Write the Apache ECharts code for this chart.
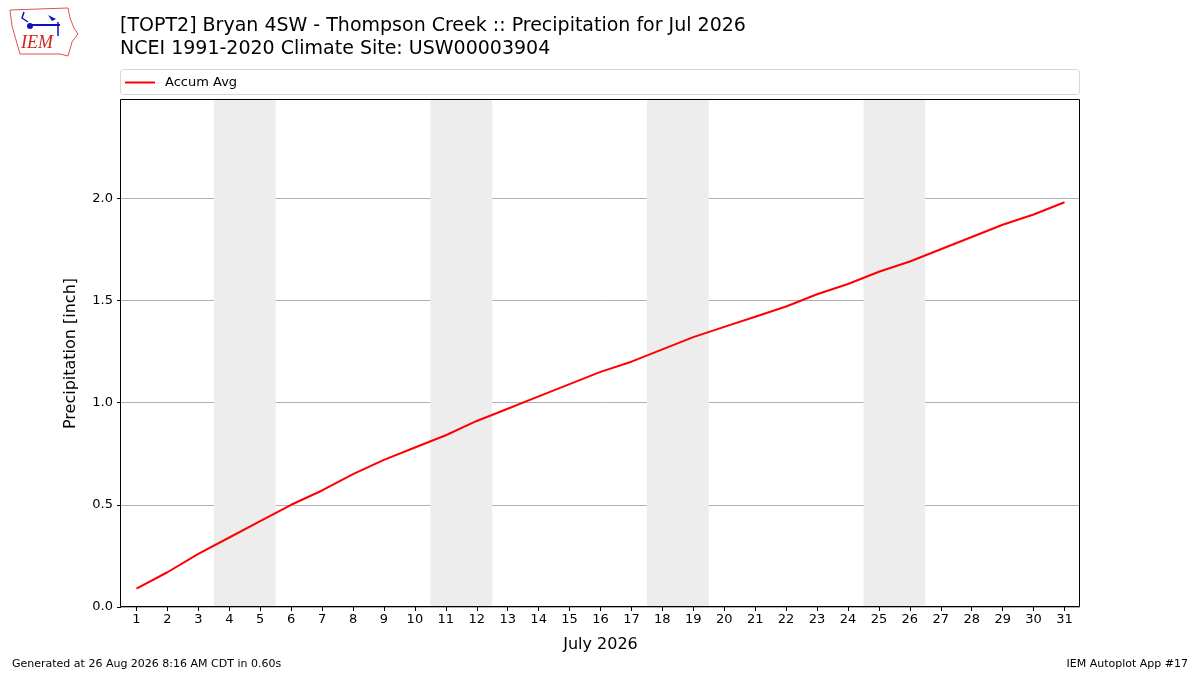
<!DOCTYPE html>
<html>
<head>
<meta charset="utf-8">
<script src="https://cdn.jsdelivr.net/npm/echarts@6/dist/echarts.min.js"></script>
<style>
html, body { margin: 0; padding: 0; background: #fff; }
#chart { width: 1200px; height: 675px; }
</style>
</head>
<body>
<div id="chart"></div>
<script>
// daily data
var days = [1,2,3,4,5,6,7,8,9,10,11,12,13,14,15,16,17,18,19,20,21,22,23,24,25,26,27,28,29,30,31];
var accumAvg = [0.09,0.17,0.26,0.34,0.42,0.50,0.57,0.65,0.72,0.78,0.84,0.91,0.97,1.03,1.09,1.15,
    1.20,1.26,1.32,1.37,1.42,1.47,1.53,1.58,1.64,1.69,1.75,1.81,1.87,1.92,1.98];
// weekend spans (Sat-Sun)
var weekends = [[3.5,5.5],[10.5,12.5],[17.5,19.5],[24.5,26.5]];
var yTicks = [0,0.5,1.0,1.5,2.0];

var FONT = 'DejaVu Sans';

function myChart1() {
    var dom = document.getElementById("chart");
    var myChart = echarts.init(dom);
    var lineData = [];
    for (var i = 0; i < days.length; i++) {
        lineData.push([days[i], accumAvg[i]]);
    }
    var areas = [];
    for (var j = 0; j < weekends.length; j++) {
        areas.push([{xAxis: weekends[j][0]}, {xAxis: weekends[j][1]}]);
    }
    var option = {
        animation: false,
        textStyle: {fontFamily: FONT},
        title: [{
            text: '[TOPT2] Bryan 4SW - Thompson Creek :: Precipitation for Jul 2026\nNCEI 1991-2020 Climate Site: USW00003904',
            left: 115, top: 10,
            textStyle: {fontFamily: FONT, fontSize: 19, fontWeight: 'normal', color: '#000', lineHeight: 23}
        }],
        legend: {
            left: 120, top: 71,
            itemWidth: 30, itemHeight: 2, itemGap: 10,
            icon: 'rect',
            textStyle: {fontFamily: FONT, fontSize: 13, color: '#000', padding: [0, 0, 0, 5]},
            data: ['Accum Avg']
        },
        grid: {
            left: 121, right: 120, top: 100, bottom: 68,
            show: false,
            containLabel: false
        },
        xAxis: {
            type: 'value',
            min: 0.5, max: 31.5,
            name: 'July 2026',
            nameLocation: 'middle', nameGap: 30,
            nameTextStyle: {fontFamily: FONT, fontSize: 16, color: '#000'},
            axisLine: {show: false},
            axisTick: {show: true, length: 4, lineStyle: {color: '#000'}, customValues: days},
            axisLabel: {fontFamily: FONT, fontSize: 13, color: '#000', margin: 6, customValues: days},
            splitLine: {show: false}
        },
        yAxis: {
            type: 'value',
            min: 0, max: 2.48, interval: 0.5,
            name: 'Precipitation [inch]',
            nameLocation: 'middle', nameGap: 42,
            nameTextStyle: {fontFamily: FONT, fontSize: 16, color: '#000'},
            axisLine: {show: false},
            axisTick: {show: true, length: 4, lineStyle: {color: '#000'}, customValues: yTicks},
            axisLabel: {
                fontFamily: FONT, fontSize: 13, color: '#000', margin: 8,
                customValues: yTicks,
                formatter: function (v) { return v.toFixed(1); }
            },
            splitLine: {show: true, lineStyle: {color: '#b0b0b0', width: 1}}
        },
        graphic: [
            // plot frame, kept above the shading
            {type: 'rect', shape: {x: 120.5, y: 99.5, width: 959, height: 507},
             style: {fill: 'none', stroke: '#000', lineWidth: 1}, z: 100},
            // legend frame
            {type: 'rect', shape: {x: 120.5, y: 69.5, width: 959, height: 25, r: 3},
             style: {fill: 'none', stroke: '#d6d6d6', lineWidth: 1}, z: 0},
            // IEM logo (rough)
            {type: 'polyline', shape: {points: [[10,10],[68,8],[70,18],[74,28],[78,34],[72,42],[68,56],[60,54],[20,54],[16,40],[12,26],[10,10]]},
             style: {stroke: '#e05050', fill: 'none', lineWidth: 1}},
            {type: 'line', shape: {x1: 30, y1: 25, x2: 60, y2: 25}, style: {stroke: '#1010c0', lineWidth: 2}},
            {type: 'circle', shape: {cx: 30, cy: 26, r: 3}, style: {fill: '#1010c0'}},
            {type: 'polyline', shape: {points: [[24,12],[22,18],[28,22]]}, style: {stroke: '#1010c0', fill: 'none', lineWidth: 1.5}},
            {type: 'polygon', shape: {points: [[48,15],[56,19],[52,21]]}, style: {fill: '#1010c0'}},
            {type: 'line', shape: {x1: 58, y1: 22, x2: 58, y2: 36}, style: {stroke: '#1010c0', lineWidth: 1.5}},
            {type: 'text', left: 21, top: 34,
             style: {text: 'IEM', fontFamily: 'Liberation Serif', fontStyle: 'italic', fontSize: 18, fill: '#d02020'}},
            // footer
            {type: 'text', left: 12, top: 659,
             style: {text: 'Generated at 26 Aug 2026 8:16 AM CDT in 0.60s', fontFamily: FONT, fontSize: 11, fill: '#000'}},
            {type: 'text', right: 12, top: 659,
             style: {text: 'IEM Autoplot App #17', fontFamily: FONT, fontSize: 11, fill: '#000'}}
        ],
        series: [{
            name: 'Accum Avg',
            type: 'line',
            data: lineData,
            showSymbol: false,
            symbol: 'none',
            color: '#ff0000',
            lineStyle: {color: '#ff0000', width: 2},
            z: 3,
            markArea: {
                silent: true,
                itemStyle: {color: '#ededed'},
                data: areas
            }
        }]
    };
    if (option && typeof option === "object") {
        myChart.setOption(option, true);
    }
}

myChart1();
</script>
</body>
</html>
